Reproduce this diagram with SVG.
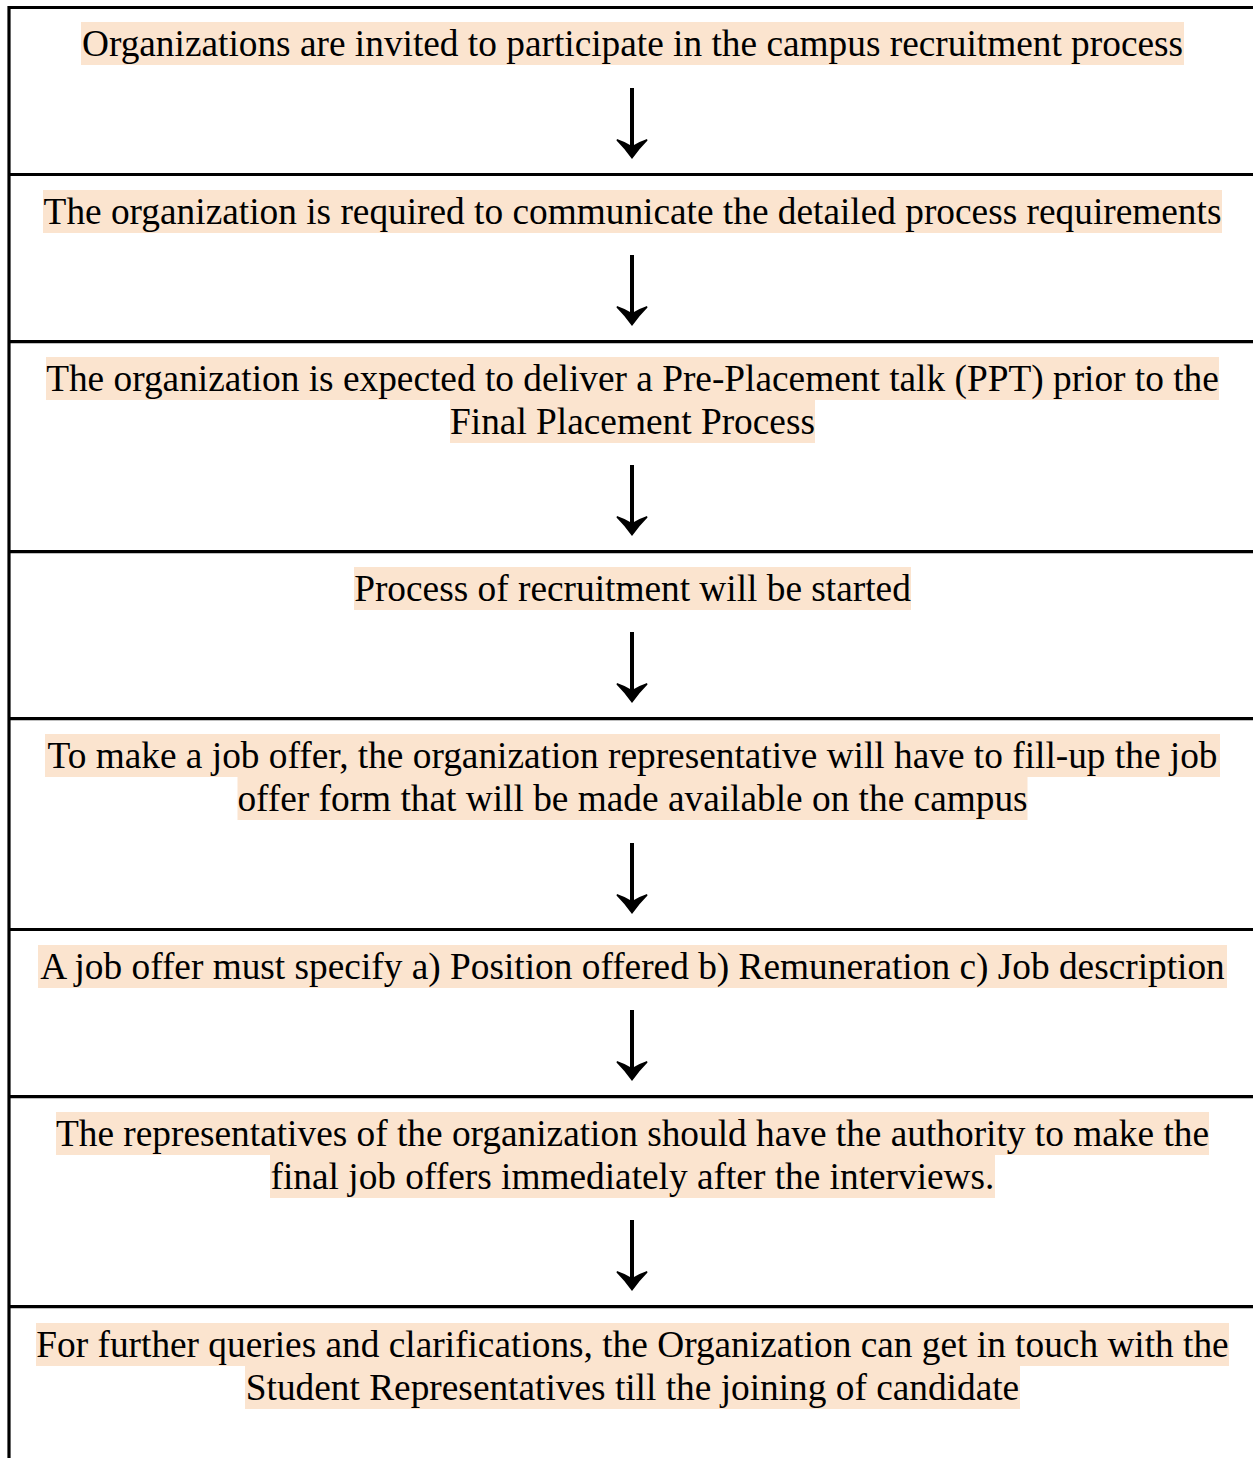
<svg xmlns="http://www.w3.org/2000/svg" width="1253" height="1458" viewBox="0 0 1253 1458">
<style>
.t{font-family:'Liberation Serif',serif;font-size:37.33px;fill:#000;text-anchor:middle}
.hl{fill:#FBE4CF}
.rule{stroke:#000;stroke-width:3.2;fill:none}
.arr{fill:#000}
</style>
<defs>
<path id="arrow" d="M-2,-71 H2 V-14 Q9,-18 15,-20 L15.5,-18.5 Q7,-10 0,0 Q-7,-10 -15.5,-18.5 L-15,-20 Q-9,-18 -2,-14 Z"/>
</defs>
<rect x="0" y="0" width="1253" height="1458" fill="#fff"/>
<g id="frame" class="rule">
<line x1="9" y1="7.5" x2="1253" y2="7.5"/>
<line x1="9" y1="6" x2="9" y2="1458"/>
<line x1="9" y1="174.5" x2="1253" y2="174.5"/>
<line x1="9" y1="341.7" x2="1253" y2="341.7"/>
<line x1="9" y1="551.7" x2="1253" y2="551.7"/>
<line x1="9" y1="718.7" x2="1253" y2="718.7"/>
<line x1="9" y1="929.5" x2="1253" y2="929.5"/>
<line x1="9" y1="1096.7" x2="1253" y2="1096.7"/>
<line x1="9" y1="1306.7" x2="1253" y2="1306.7"/>
</g>
<g id="step1">
<rect class="hl" x="81" y="22" width="1103" height="43"/>
<text class="t" x="632.5" y="56">Organizations are invited to participate in the campus recruitment process</text>
</g>
<g id="step2">
<rect class="hl" x="43" y="190" width="1179" height="43"/>
<text class="t" x="632.5" y="224">The organization is required to communicate the detailed process requirements</text>
</g>
<g id="step3">
<rect class="hl" x="46" y="357" width="1173" height="43"/>
<rect class="hl" x="450" y="400" width="365" height="43"/>
<text class="t" x="632.5" y="391">The organization is expected to deliver a Pre-Placement talk (PPT) prior to the</text>
<text class="t" x="632.5" y="434">Final Placement Process</text>
</g>
<g id="step4">
<rect class="hl" x="354" y="567" width="557" height="43"/>
<text class="t" x="632.5" y="601">Process of recruitment will be started</text>
</g>
<g id="step5">
<rect class="hl" x="45" y="734" width="1175" height="43"/>
<rect class="hl" x="237.5" y="777" width="790" height="43"/>
<text class="t" x="632.5" y="768">To make a job offer, the organization representative will have to fill-up the job</text>
<text class="t" x="632.5" y="811">offer form that will be made available on the campus</text>
</g>
<g id="step6">
<rect class="hl" x="38" y="945" width="1189" height="43"/>
<text class="t" x="632.5" y="979">A job offer must specify a) Position offered b) Remuneration c) Job description</text>
</g>
<g id="step7">
<rect class="hl" x="56" y="1112" width="1153" height="43"/>
<rect class="hl" x="270" y="1155" width="725" height="43"/>
<text class="t" x="632.5" y="1146">The representatives of the organization should have the authority to make the</text>
<text class="t" x="632.5" y="1189">final job offers immediately after the interviews.</text>
</g>
<g id="step8">
<rect class="hl" x="36" y="1323" width="1193" height="43"/>
<rect class="hl" x="245" y="1366" width="775" height="43"/>
<text class="t" x="632.5" y="1357">For further queries and clarifications, the Organization can get in touch with the</text>
<text class="t" x="632.5" y="1400">Student Representatives till the joining of candidate</text>
</g>
<g id="connectors" class="arr">
<use href="#arrow" x="632" y="159"/>
<use href="#arrow" x="632" y="326"/>
<use href="#arrow" x="632" y="536"/>
<use href="#arrow" x="632" y="703"/>
<use href="#arrow" x="632" y="914"/>
<use href="#arrow" x="632" y="1081"/>
<use href="#arrow" x="632" y="1291"/>
</g>
</svg>
